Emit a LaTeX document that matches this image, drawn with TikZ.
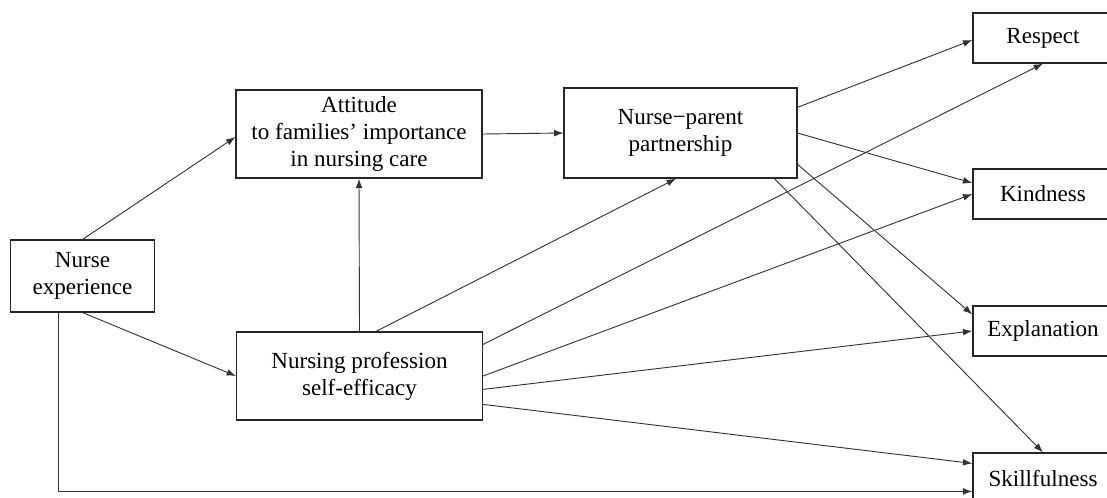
\documentclass[tikz,border=0pt]{standalone}
\usepackage{fontspec}
\setmainfont{Liberation Serif}
\usetikzlibrary{arrows.meta,calc}

\begin{document}
\begin{tikzpicture}[
    x=0.0192cm, y=-0.0192cm,
    every node/.style={font=\fontsize{12.6}{14.8}\selectfont},
    box node/.style={rectangle, draw=black!85, line width=0.65pt, fill=white, align=center, inner sep=2pt},
    mid node/.style={box node, minimum width=4.72cm, minimum height=1.69cm},
    out node/.style={box node, minimum width=2.69cm, minimum height=0.96cm},
    path edge/.style={draw=black!80, line width=0.5pt, -{Latex[length=1.8mm,width=1.3mm]}}
]
\useasboundingbox (0,0) rectangle (1107,497);

% predictor and mediators
\node[box node, minimum width=2.75cm, minimum height=1.38cm] (exp) at (82.5,276) {Nurse\\experience};
\node[mid node] (att) at (359,134) {Attitude\\to families’ importance\\in nursing care};
\node[mid node] (nps) at (359.5,376) {Nursing profession\\self-efficacy};
\node[box node, minimum width=4.47cm, minimum height=1.73cm] (npp) at (680.5,133) {Nurse−parent\\partnership};

% outcomes
\node[out node] (res) at (1043,38) {Respect};
\node[out node] (kin) at (1043,194) {Kindness};
\node[out node] (exl) at (1043,331) {Explanation};
\node[out node] (skl) at (1043,478) {Skillfulness};

% from nurse experience
\draw[path edge] (exp.north) -- ($(att.west)+(0,3)$);
\draw[path edge] (exp.south) -- (nps.west);
\draw[path edge] ($(exp.south)+(-24,0)$) |- ($(skl.north west)+(0,39)$);

% between mediators
\draw[path edge] (att.east) -- (npp.west);
\draw[path edge] (nps.north) -- (att.south);
\draw[path edge] ($(nps.north)+(16.5,0)$) -- ($(npp.south)+(-4.5,0)$);

% from nurse-parent partnership
\draw[path edge] ($(npp.north east)+(0,20)$) -- ($(res.west)+(0,2)$);
\draw[path edge] (npp.east) -- ($(kin.west)+(0,-11)$);
\draw[path edge] ($(npp.north east)+(0,77)$) -- ($(exl.north west)+(0,9)$);
\draw[path edge] ($(npp.south east)+(-23,0)$) -- (skl.north);

% from self-efficacy
\draw[path edge] ($(nps.north east)+(0,13)$) -- (res.south);
\draw[path edge] (nps.east) -- (kin.west);
\draw[path edge] ($(nps.north east)+(0,58)$) -- (exl.west);
\draw[path edge] ($(nps.north east)+(0,73)$) -- ($(skl.north west)+(0,11)$);

\end{tikzpicture}
\end{document}
